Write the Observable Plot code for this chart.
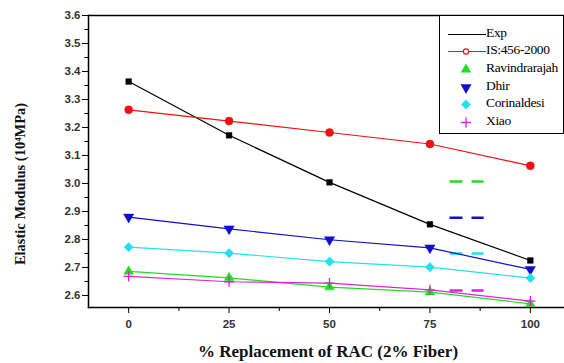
<!DOCTYPE html>
<html>
<head>
<meta charset="utf-8">
<script src="https://cdn.jsdelivr.net/npm/d3@7"></script>
<script src="https://cdn.jsdelivr.net/npm/@observablehq/plot@0.6"></script>
<style>
  body { margin: 0; background: #fff; }
  #wrap { position: relative; width: 564px; height: 363px; }
  #wrap svg text { font-family: "Liberation Sans", Arial, sans-serif; }
  g[aria-label="x-axis tick label"] text, g[aria-label="y-axis tick label"] text { font-weight: bold; fill: #333; }
  #wrap svg text.title { font-family: "Liberation Serif", "Times New Roman", serif; font-weight: bold; fill: #111; }
  #legend { position: absolute; left: 439px; top: 15px; width: 123px; height: 117px;
    border: 1.5px solid #000; background: #fff; font-family: "Liberation Serif", "Times New Roman", serif; font-size: 13.5px; }
  #legend .row { position: absolute; left: 0; height: 18px; width: 123px; }
  #legend .row svg { position: absolute; left: 8px; top: 0; }
  #legend .row span { position: absolute; left: 46px; top: 0px; letter-spacing: -0.35px; }
</style>
</head>
<body>
<div id="wrap"></div>
<script>
const replacement = [0, 25, 50, 75, 100];
const seriesNames = ["Exp", "IS:456-2000", "Ravindrarajah", "Dhir", "Corinaldesi", "Xiao"];
const expValues = [3.364, 3.172, 3.004, 2.854, 2.725];
const isValues = [3.263, 3.223, 3.182, 3.141, 3.063];
const ravindrarajahValues = [2.686, 2.663, 2.630, 2.612, 2.570];
const dhirValues = [2.880, 2.838, 2.799, 2.770, 2.693];
const corinaldesiValues = [2.773, 2.751, 2.721, 2.701, 2.662];
const xiaoValues = [2.668, 2.649, 2.644, 2.620, 2.580];
const xTicks = [0, 25, 50, 75, 100];
const xMinorTicks = [12.5, 37.5, 62.5, 87.5];
const yTicks = [2.6, 2.7, 2.8, 2.9, 3.0, 3.1, 3.2, 3.3, 3.4, 3.5, 3.6];
const yMinorTicks = [2.65, 2.75, 2.85, 2.95, 3.05, 3.15, 3.25, 3.35, 3.45, 3.55];
const xTitle = "% Replacement of RAC (2% Fiber)";
const yTitle = "Elastic Modulus (10\u2074MPa)";
// stray dashed legend remnants visible inside the plot area
const strayDashY = [3.007, 2.878, 2.750, 2.618];
const strayDashSeries = ["Ravindrarajah", "Dhir", "Corinaldesi", "Xiao"];
const strayDashX = [80, 88.5];

const style = {
  "Exp": {color: "#000000", symbol: "square", r: 3.2, rotate: 0, fill: true},
  "IS:456-2000": {color: "#ee1111", symbol: "circle", r: 4, rotate: 0, fill: true},
  "Ravindrarajah": {color: "#22dd22", symbol: "triangle", r: 3.6, rotate: 0, fill: true},
  "Dhir": {color: "#1010cc", symbol: "triangle", r: 3.8, rotate: 180, fill: true},
  "Corinaldesi": {color: "#22e0f0", symbol: "square", r: 3.7, rotate: 45, fill: true},
  "Xiao": {color: "#dd22dd", symbol: "plus", r: 3.4, rotate: 0, fill: false}
};
const valuesBySeries = [expValues, isValues, ravindrarajahValues, dhirValues, corinaldesiValues, xiaoValues];
const data = [];
seriesNames.forEach((s, i) => replacement.forEach((x, j) => data.push({series: s, x, y: valuesBySeries[i][j]})));
const dashes = strayDashY.map((y, i) => ({y, series: strayDashSeries[i]}));

const marks = [
  Plot.frame({anchor: "top", strokeWidth: 1.5}),
  Plot.frame({anchor: "left", strokeWidth: 1.5}),
  Plot.frame({anchor: "bottom", strokeWidth: 1.5}),
  Plot.axisX({ticks: xTicks, tickSize: 6, tickPadding: 6, fontSize: 11.5, tickFormat: d => String(d), label: null}),
  Plot.axisX({ticks: xMinorTicks, tickSize: 4, tickFormat: () => "", label: null}),
  Plot.axisY({ticks: yTicks, tickSize: 6, tickPadding: 2, fontSize: 11.5, tickFormat: d => d.toFixed(1), label: null}),
  Plot.axisY({ticks: yMinorTicks, tickSize: 3.5, tickFormat: () => "", label: null}),
  Plot.ruleY(dashes, {y: "y", x1: strayDashX[0], x2: strayDashX[1], stroke: d => style[d.series].color,
    strokeWidth: 2.5, strokeDasharray: "13 9"})
];
seriesNames.forEach(s => {
  const st = style[s];
  const sd = data.filter(d => d.series === s);
  marks.push(Plot.line(sd, {x: "x", y: "y", stroke: st.color, strokeWidth: 1.2}));
});
seriesNames.forEach(s => {
  const st = style[s];
  const sd = data.filter(d => d.series === s);
  marks.push(Plot.dot(sd, {x: "x", y: "y", symbol: st.symbol, r: st.r, rotate: st.rotate,
    fill: st.fill ? st.color : "none", stroke: st.color, strokeWidth: st.fill ? 0.5 : 1.3}));
});

const chart = Plot.plot({
  width: 564, height: 363,
  marginLeft: 88, marginTop: 15, marginBottom: 56, marginRight: 0,
  x: {domain: [-10, 108.5]},
  y: {domain: [2.557, 3.6]},
  marks
});
const svgSel = d3.select(chart);
svgSel.append("text").attr("class", "title").attr("x", 328).attr("y", 357)
  .attr("text-anchor", "middle").attr("font-size", 17).text(xTitle);
svgSel.append("text").attr("class", "title").attr("transform", "translate(25,184) rotate(-90)")
  .attr("text-anchor", "middle").attr("font-size", 14.5).text(yTitle);
const wrap = document.getElementById("wrap");
wrap.appendChild(chart);

// legend
const legend = document.createElement("div");
legend.id = "legend";
const rowTops = [9, 26, 44, 62, 79, 97];
seriesNames.forEach((s, i) => {
  const st = style[s];
  const row = document.createElement("div");
  row.className = "row";
  row.style.top = rowTops[i] + "px";
  const svg = d3.create("svg").attr("width", 38).attr("height", 18);
  if (i < 2) svg.append("line").attr("x1", 0).attr("x2", 38).attr("y1", 9.5).attr("y2", 9.5)
    .attr("stroke", st.color).attr("stroke-width", 1.2);
  const sym = {square: d3.symbolSquare, circle: d3.symbolCircle, triangle: d3.symbolTriangle, plus: d3.symbolPlus}[st.symbol];
  if (i === 1) {
    svg.append("circle").attr("cx", 18).attr("cy", 9.5).attr("r", 2.6).attr("fill", "#fff").attr("stroke", st.color).attr("stroke-width", 1.2);
  } else if (i > 1) {
    svg.append("path").attr("d", d3.symbol(sym, Math.PI * st.r * st.r)())
      .attr("transform", `translate(18,9.5) rotate(${st.rotate})`)
      .attr("fill", st.fill ? st.color : "none").attr("stroke", st.color).attr("stroke-width", st.fill ? 0.5 : 1.3);
  }
  row.appendChild(svg.node());
  const label = document.createElement("span");
  label.textContent = s;
  row.appendChild(label);
  legend.appendChild(row);
});
wrap.appendChild(legend);
</script>
</body>
</html>
